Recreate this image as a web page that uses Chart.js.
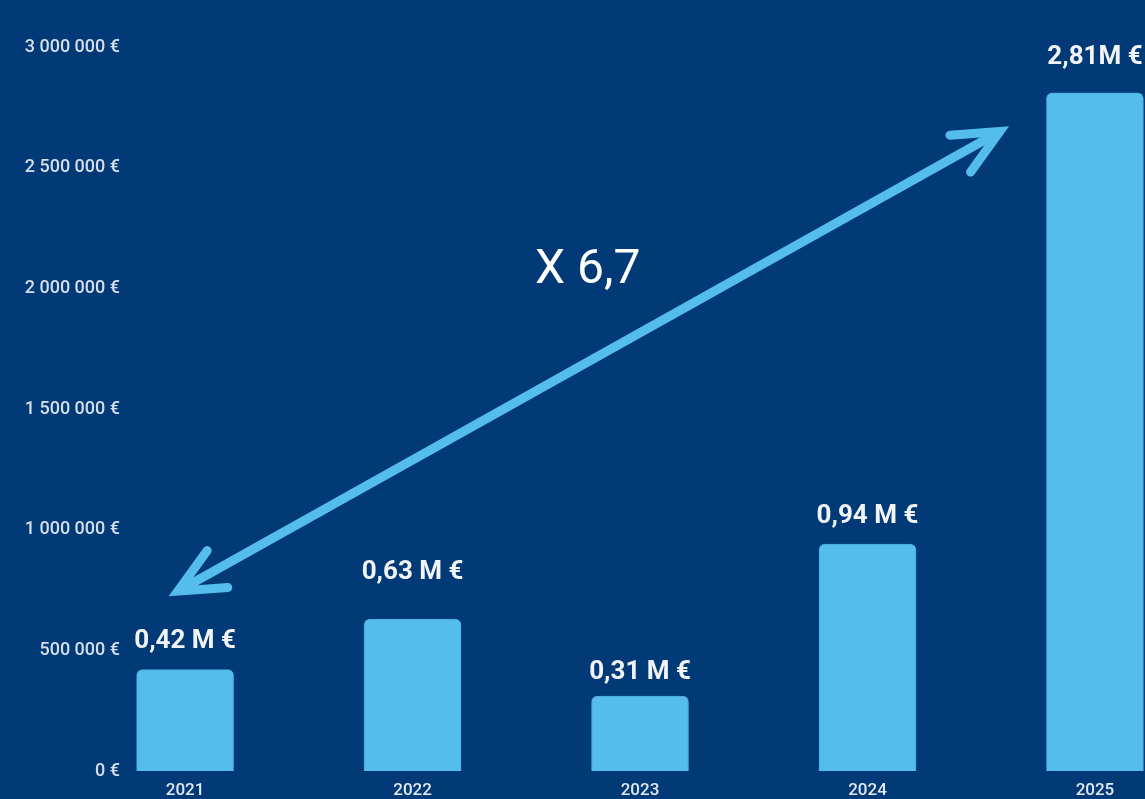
<!DOCTYPE html>
<html>
<head>
<meta charset="utf-8">
<script src="https://cdn.jsdelivr.net/npm/chart.js@4.4.1/dist/chart.umd.min.js"></script>
<style>
  html, body { margin: 0; padding: 0; background: #023a77; }
  #wrap { width: 1145px; height: 799px; position: relative; }
</style>
</head>
<body>
<div id="wrap"><canvas id="revenueChart"></canvas></div>
<script>
// Chart data
const years = [2021, 2022, 2023, 2024, 2025];
const revenue = [420000, 630000, 310000, 940000, 2810000];
const valueLabels = ['0,42 M €', '0,63 M €', '0,31 M €', '0,94 M €', '2,81M €'];
const growthLabel = 'X 6,7';

// Look
const barColor = '#55bdee';
const textColor = '#e4e9f1';
const labelLift = [28, 46, 24, 28, 35];

// Arrow between first and last year (in axis units)
const arrowFrom = { x: 2020.93, y: 725000 };
const arrowTo = { x: 2024.62, y: 2670000 };
const growthPos = { x: 2022.77, y: 2070000 };

function drawHead(ctx, tipX, tipY, ang, len, spread) {
    ctx.beginPath();
    ctx.moveTo(tipX + len * Math.cos(ang + spread), tipY + len * Math.sin(ang + spread));
    ctx.lineTo(tipX, tipY);
    ctx.lineTo(tipX + len * Math.cos(ang - spread), tipY + len * Math.sin(ang - spread));
    ctx.stroke();
}

// Value labels, arrow and growth factor
const overlayPlugin = {
    id: 'overlay',
    afterDatasetsDraw(chart) {
        const ctx = chart.ctx;
        const xs = chart.scales.x, ys = chart.scales.y;
        ctx.save();

        // values above bars
        ctx.fillStyle = '#f2f4f7';
        ctx.font = 'bold 26px Roboto';
        ctx.textAlign = 'center';
        ctx.textBaseline = 'middle';
        chart.getDatasetMeta(0).data.forEach((bar, i) => {
            ctx.fillText(valueLabels[i], bar.x, bar.y - labelLift[i]);
        });

        // double arrow (tips pulled in so the miter point lands on the anchor)
        let x1 = xs.getPixelForValue(arrowFrom.x), y1 = ys.getPixelForValue(arrowFrom.y);
        let x2 = xs.getPixelForValue(arrowTo.x), y2 = ys.getPixelForValue(arrowTo.y);
        const ang = Math.atan2(y2 - y1, x2 - x1);
        const pull = 10;
        x1 += pull * Math.cos(ang); y1 += pull * Math.sin(ang);
        x2 -= pull * Math.cos(ang); y2 -= pull * Math.sin(ang);
        ctx.strokeStyle = barColor;
        ctx.lineWidth = 9;
        ctx.lineCap = 'round';
        ctx.beginPath();
        ctx.moveTo(x1 + 4 * Math.cos(ang), y1 + 4 * Math.sin(ang));
        ctx.lineTo(x2 - 4 * Math.cos(ang), y2 - 4 * Math.sin(ang));
        ctx.stroke();
        ctx.lineJoin = 'miter';
        const spread = 25 * Math.PI / 180;
        drawHead(ctx, x2, y2, ang + Math.PI, 50, spread);
        drawHead(ctx, x1, y1, ang, 50, spread);

        // growth factor
        ctx.fillStyle = '#ffffff';
        ctx.font = '48px Roboto';
        ctx.fillText(growthLabel, xs.getPixelForValue(growthPos.x), ys.getPixelForValue(growthPos.y));
        ctx.restore();
    }
};

const ctx = document.getElementById('revenueChart').getContext('2d');
const revenueChart = new Chart(ctx, {
    type: 'bar',
    data: {
        datasets: [{
            data: years.map((y, i) => ({ x: y, y: revenue[i] })),
            backgroundColor: barColor,
            borderColor: '#4aa9dc',
            borderWidth: 1,
            borderSkipped: 'bottom',
            borderRadius: { topLeft: 6, topRight: 6 },
            barThickness: 97
        }]
    },
    options: {
        responsive: true,
        maintainAspectRatio: false,
        animation: false,
        layout: { padding: { top: 47, right: 0, left: 0, bottom: 0 } },
        plugins: {
            legend: { display: false },
            tooltip: { enabled: false }
        },
        scales: {
            x: {
                type: 'linear',
                offset: false,
                min: 2020.749,
                max: 2025.22,
                grid: { display: false, drawTicks: false },
                border: { display: false },
                afterBuildTicks: scale => { scale.ticks = years.map(v => ({ value: v })); },
                afterFit: scale => { scale.height = 28; },
                ticks: {
                    color: textColor,
                    padding: 10,
                    font: { family: 'Roboto', size: 17, weight: '500' },
                    callback: v => String(v)
                }
            },
            y: {
                min: 0,
                max: 3000000,
                grid: { display: false, drawTicks: false },
                border: { display: false },
                afterFit: scale => { scale.width = 128; },
                ticks: {
                    stepSize: 500000,
                    color: '#d6dee9',
                    padding: 8,
                    font: { family: 'Roboto', size: 18, weight: '500' },
                    callback: v => v.toString().replace(/\B(?=(\d{3})+(?!\d))/g, ' ') + ' €'
                }
            }
        }
    },
    plugins: [overlayPlugin]
});
</script>
</body>
</html>
